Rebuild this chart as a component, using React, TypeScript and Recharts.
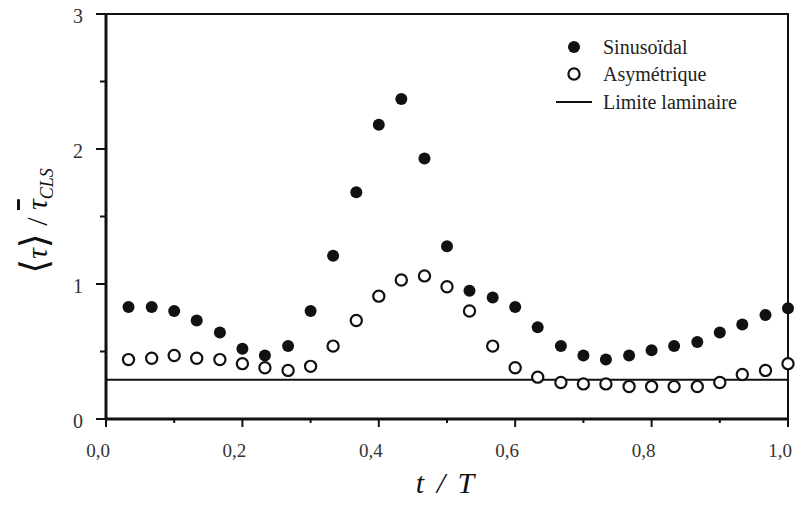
import React from "react";
import { ComposedChart, Scatter, XAxis, YAxis, Legend } from "recharts";

// t/T positions of the measurements
const phase = [
  0.033, 0.067, 0.1, 0.133, 0.167, 0.2, 0.233, 0.267, 0.3, 0.333, 0.367, 0.4,
  0.433, 0.467, 0.5, 0.533, 0.567, 0.6, 0.633, 0.667, 0.7, 0.733, 0.767, 0.8,
  0.833, 0.867, 0.9, 0.933, 0.967, 1.0,
];

const sinusoidal = [
  0.83, 0.83, 0.8, 0.73, 0.64, 0.52, 0.47, 0.54, 0.8, 1.21, 1.68, 2.18, 2.37,
  1.93, 1.28, 0.95, 0.9, 0.83, 0.68, 0.54, 0.47, 0.44, 0.47, 0.51, 0.54, 0.57,
  0.64, 0.7, 0.77, 0.82,
];

const asymetrique = [
  0.44, 0.45, 0.47, 0.45, 0.44, 0.41, 0.38, 0.36, 0.39, 0.54, 0.73, 0.91, 1.03,
  1.06, 0.98, 0.8, 0.54, 0.38, 0.31, 0.27, 0.26, 0.26, 0.24, 0.24, 0.24, 0.24,
  0.27, 0.33, 0.36, 0.41,
];

const laminarLimit = 0.29;

const xTicks = [0, 0.1, 0.2, 0.3, 0.4, 0.5, 0.6, 0.7, 0.8, 0.9, 1.0];
const yTicks = [0, 0.5, 1, 1.5, 2, 2.5, 3];

const sinData = phase.map((t, i) => ({ t, v: sinusoidal[i] }));
const asyData = phase.map((t, i) => ({ t, v: asymetrique[i] }));
const laminarData = [
  { t: 0, v: laminarLimit },
  { t: 1, v: laminarLimit },
];
// top and right edges of the box
const frameData = [
  { t: 0, v: 3 },
  { t: 1, v: 3 },
  { t: 1, v: 0 },
];

const SERIF = "'Liberation Serif', 'DejaVu Serif', serif";
const INK = "#111";

const W = 795;
const H = 509;
const MARGIN = { top: 14, right: 7, left: 46, bottom: 30 };

const XTick = (props: any) => {
  const { x, y, payload } = props;
  const v = payload.value as number;
  const major = Math.round(v * 10) % 2 === 0;
  return (
    <g>
      <line x1={x} x2={x} y1={y} y2={y + (major ? 8 : 4)} stroke={INK} strokeWidth={2} />
      {major && (
        <text x={x - 8} y={y + 38} textAnchor="middle" fontFamily={SERIF} fontSize={19} fill="#333">
          {v.toFixed(1).replace(".", ",")}
        </text>
      )}
    </g>
  );
};

const YTick = (props: any) => {
  const { x, y, payload } = props;
  const v = payload.value as number;
  const major = Number.isInteger(v);
  return (
    <g>
      <line x1={x - (major ? 10 : 6)} x2={x} y1={y} y2={y} stroke={INK} strokeWidth={2} />
      {major && (
        <text x={x - 23} y={y + 9} textAnchor="end" fontFamily={SERIF} fontSize={20} fill="#333">
          {v}
        </text>
      )}
    </g>
  );
};

const filledDot = (p: any) => <circle cx={p.cx} cy={p.cy} r={6} fill={INK} />;
const openDot = (p: any) => (
  <circle cx={p.cx} cy={p.cy} r={5.6} fill="#fff" stroke={INK} strokeWidth={2.2} />
);
const noDot = () => <g />;

const LegendBox = () => {
  const rows = [
    { name: "Sinusoïdal", icon: <circle cx={18} cy={14} r={6} fill={INK} /> },
    {
      name: "Asymétrique",
      icon: <circle cx={18} cy={14} r={5.6} fill="#fff" stroke={INK} strokeWidth={2.2} />,
    },
    { name: "Limite laminaire", icon: <line x1={0} x2={36} y1={14} y2={14} stroke={INK} strokeWidth={2} /> },
  ];
  return (
    <div style={{ fontFamily: SERIF, fontSize: 20, color: "#222" }}>
      {rows.map((r) => (
        <div key={r.name} style={{ display: "flex", alignItems: "center", height: 27.5 }}>
          <svg width={36} height={28} style={{ marginRight: 11 }}>
            {r.icon}
          </svg>
          <span style={{ lineHeight: "20px" }}>{r.name}</span>
        </div>
      ))}
    </div>
  );
};

const XTitle = () => (
  <text x={445} y={493} textAnchor="middle" fontFamily={SERIF} fontStyle="italic" fontSize={30} fill={INK} wordSpacing={5}>
    t / T
  </text>
);

const YTitle = () => (
  <text
    x={47}
    y={221}
    transform="rotate(-90 47 221)"
    textAnchor="middle"
    fontFamily={SERIF}
    fontSize={30}
    fill={INK}
  >
    <tspan fontSize={38} fontWeight={300}>⟨</tspan>
    <tspan fontStyle="italic">τ</tspan>
    <tspan fontSize={38} fontWeight={300}>⟩</tspan>
    <tspan> / </tspan>
    <tspan fontStyle="italic" textDecoration="overline">τ</tspan>
    <tspan fontStyle="italic" fontSize={18} dy={6}>CLS</tspan>
  </text>
);

export default function App() {
  // fixed to the viewport so the page never gets scrollbars
  return (
    <div style={{ position: "fixed", left: 0, top: 0, width: W, height: H, background: "#fff" }}>
      <ComposedChart width={W} height={H} margin={MARGIN}>
        <XAxis
          type="number"
          dataKey="t"
          domain={[0, 1]}
          ticks={xTicks}
          interval={0}
          tickSize={0}
          tickMargin={0}
          tickLine={false}
          tick={<XTick />}
          axisLine={{ stroke: INK, strokeWidth: 3 }}
          height={60}
          label={{ content: () => <XTitle /> }}
        />
        <YAxis
          type="number"
          dataKey="v"
          domain={[0, 3]}
          ticks={yTicks}
          interval={0}
          tickSize={0}
          tickMargin={0}
          tickLine={false}
          tick={<YTick />}
          axisLine={{ stroke: INK, strokeWidth: 3 }}
          width={60}
          label={{ content: () => <YTitle /> }}
        />
        <Scatter
          name="cadre"
          data={frameData}
          dataKey="v"
          line={{ stroke: INK, strokeWidth: 2 }}
          shape={noDot}
          legendType="none"
          isAnimationActive={false}
        />
        <Scatter
          name="Limite laminaire"
          data={laminarData}
          dataKey="v"
          line={{ stroke: INK, strokeWidth: 2 }}
          shape={noDot}
          isAnimationActive={false}
        />
        <Scatter name="Sinusoïdal" data={sinData} dataKey="v" shape={filledDot} isAnimationActive={false} />
        <Scatter name="Asymétrique" data={asyData} dataKey="v" shape={openDot} isAnimationActive={false} />
        <Legend
          layout="vertical"
          align="center"
          verticalAlign="middle"
          content={() => <LegendBox />}
          wrapperStyle={{ position: "absolute", left: 556, top: 33, width: 230 }}
        />
      </ComposedChart>
    </div>
  );
}
